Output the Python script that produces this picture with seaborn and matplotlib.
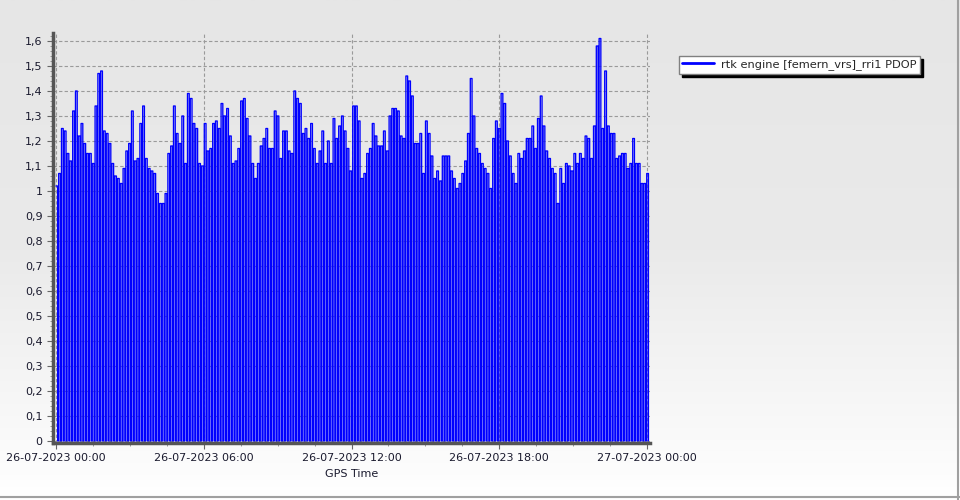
import numpy as np
import pandas as pd
import matplotlib
matplotlib.use("Agg")
import matplotlib.pyplot as plt
import matplotlib.dates as mdates
from matplotlib.colors import LinearSegmentedColormap
from matplotlib.lines import Line2D
from matplotlib.ticker import FuncFormatter, MultipleLocator, FixedLocator
import seaborn as sns

# PDOP, one value per epoch (~6.8 min), 26-07-2023 00:00 .. 23:59
pdop_00_04 = [1.02, 1.07, 1.25, 1.24, 1.15, 1.12, 1.32, 1.40, 1.22, 1.27, 1.19, 1.15,
              1.15, 1.11, 1.34, 1.47, 1.48, 1.24, 1.23, 1.19, 1.11, 1.06, 1.05, 1.03,
              1.09, 1.16, 1.19, 1.32, 1.12, 1.13, 1.27, 1.34, 1.13, 1.09, 1.08, 1.07]
pdop_04_08 = [0.99, 0.95, 0.95, 0.99, 1.15, 1.18, 1.34, 1.23, 1.19, 1.30, 1.11, 1.39,
              1.37, 1.27, 1.25, 1.11, 1.10, 1.27, 1.16, 1.17, 1.27, 1.28, 1.25, 1.35,
              1.30, 1.33, 1.22, 1.11, 1.12, 1.17, 1.36, 1.37, 1.29, 1.22, 1.11, 1.05]
pdop_08_12 = [1.11, 1.18, 1.21, 1.25, 1.17, 1.17, 1.32, 1.30, 1.13, 1.24, 1.24, 1.16,
              1.15, 1.40, 1.37, 1.35, 1.23, 1.25, 1.21, 1.27, 1.17, 1.11, 1.16, 1.24,
              1.11, 1.20, 1.11, 1.29, 1.21, 1.26, 1.30, 1.24, 1.17, 1.08, 1.34]
pdop_12_16 = [1.34, 1.28, 1.05, 1.07, 1.15, 1.17, 1.27, 1.22, 1.18, 1.18, 1.24, 1.16,
              1.30, 1.33, 1.33, 1.32, 1.22, 1.21, 1.46, 1.44, 1.38, 1.19, 1.19, 1.23,
              1.07, 1.28, 1.23, 1.14, 1.05, 1.08, 1.04, 1.14, 1.14, 1.14, 1.08, 1.05]
pdop_16_20 = [1.01, 1.03, 1.07, 1.12, 1.23, 1.45, 1.30, 1.17, 1.15, 1.11, 1.09, 1.07,
              1.01, 1.21, 1.28, 1.25, 1.39, 1.35, 1.20, 1.14, 1.07, 1.03, 1.15, 1.13,
              1.16, 1.21, 1.21, 1.26, 1.17, 1.29, 1.38, 1.26, 1.16, 1.13, 1.09, 1.07]
pdop_20_24 = [0.95, 1.09, 1.03, 1.11, 1.10, 1.08, 1.15, 1.11, 1.15, 1.13, 1.22, 1.21,
              1.13, 1.26, 1.58, 1.61, 1.25, 1.48, 1.26, 1.23, 1.23, 1.13, 1.14, 1.15,
              1.15, 1.09, 1.11, 1.21, 1.11, 1.11, 1.03, 1.03, 1.07]

pdop = pdop_00_04 + pdop_04_08 + pdop_08_12 + pdop_12_16 + pdop_16_20 + pdop_20_24
series_name = "rtk engine [femern_vrs]_rri1 PDOP"
tick_times = pd.date_range("2023-07-26 00:00", "2023-07-27 00:00", freq="6h")

# each epoch: value, then a short dropout to 0 before the next epoch
epochs = pd.date_range("2023-07-26 00:00", "2023-07-26 23:59", periods=len(pdop))
step = epochs[1] - epochs[0]
df = pd.concat([
    pd.DataFrame({"time": epochs, "pdop": pdop}),
    pd.DataFrame({"time": epochs + step * 0.62, "pdop": 0.0}),
]).sort_values("time").reset_index(drop=True)

sns.set_style("white")
plt.rcParams["font.family"] = ["DejaVu Sans"]
plt.rcParams["path.simplify"] = False

fig = plt.figure(figsize=(9.6, 5), dpi=100)

# gray-to-white background like the original control
bg = fig.add_axes([0, 0, 1, 1], zorder=-5)
grad = np.linspace(0, 1, 256).reshape(-1, 1)
bg.imshow(grad, aspect="auto", extent=[0, 1, 0, 1],
          cmap=LinearSegmentedColormap.from_list("bg", ["#e6e6e6", "#eaeaea", "#ffffff"]))
bg.axis("off")

ax = fig.add_axes([53 / 960, 57 / 500, 597 / 960, 410 / 500])
ax.set_facecolor("none")

sns.lineplot(data=df, x="time", y="pdop", ax=ax, color="#0000ff", lw=0.95,
             drawstyle="steps-post", estimator=None, legend=False, snap=False)

ax.set_xlim(tick_times[0] - pd.Timedelta(minutes=7), tick_times[-1] + pd.Timedelta(minutes=7))
ax.set_ylim(-0.008, 1.632)

ax.xaxis.set_major_locator(FixedLocator(mdates.date2num(tick_times)))
ax.xaxis.set_minor_locator(FixedLocator(
    mdates.date2num(pd.date_range(tick_times[0], tick_times[-1], freq="90min"))))
ax.xaxis.set_major_formatter(mdates.DateFormatter("%d-%m-%Y %H:%M"))
ax.yaxis.set_major_locator(MultipleLocator(0.1))
ax.yaxis.set_minor_locator(MultipleLocator(0.02))
ax.yaxis.set_major_formatter(FuncFormatter(lambda v, p: f"{v:.1f}".rstrip("0").rstrip(".").replace(".", ",")))

ax.tick_params(axis="both", which="major", labelsize=8, labelcolor="#1a1a2e", color="#666666", length=4)
ax.tick_params(axis="both", which="minor", color="#888888", length=2)
ax.tick_params(axis="both", which="both", bottom=True, left=True)
ax.grid(True, which="major", color="#9a9a9a", linestyle=(0, (3, 2)), linewidth=0.8)
ax.set_axisbelow(True)

for s in ["top", "right"]:
    ax.spines[s].set_visible(False)
for s in ["left", "bottom"]:
    ax.spines[s].set_color("#555555")
    ax.spines[s].set_linewidth(2.5)

ax.set_xlabel("GPS Time", fontsize=8, color="#1a1a2e", labelpad=4)
ax.set_ylabel("")

handle = Line2D([], [], color="#0000ff", lw=2)
fig.legend([handle], [series_name], loc="upper left", bbox_to_anchor=(679 / 960, 1 - 56 / 500),
           fontsize=8.2, frameon=True, fancybox=False, edgecolor="#808080", framealpha=1,
           shadow={"color": "black", "alpha": 1}, borderpad=0.3, handlelength=2.8,
           handletextpad=0.6, borderaxespad=0)

# outer frame lines (right and bottom)
fig.add_artist(Line2D([0, 1], [3 / 500, 3 / 500], color="#a0a0a0", lw=1.5))
fig.add_artist(Line2D([958 / 960, 958 / 960], [0, 1], color="#a0a0a0", lw=1.5))

fig.savefig("out.png", dpi=100)
